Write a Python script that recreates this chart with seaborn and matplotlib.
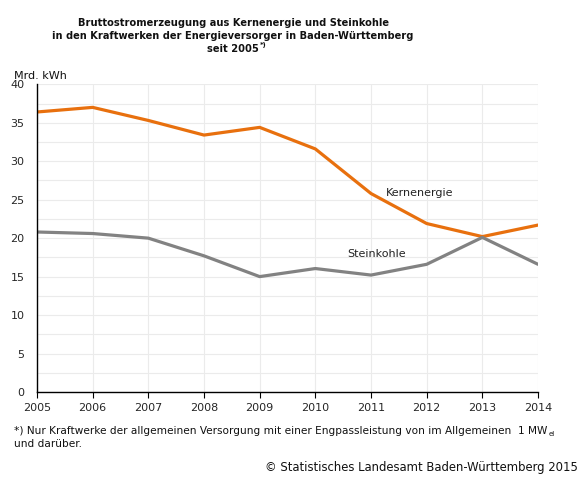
import matplotlib
matplotlib.use("Agg")
import matplotlib.pyplot as plt
import seaborn as sns
import pandas as pd
from matplotlib.ticker import MultipleLocator

years = [2005, 2006, 2007, 2008, 2009, 2010, 2011, 2012, 2013, 2014]
kernenergie = [36.4, 37.0, 35.3, 33.4, 34.4, 31.6, 25.8, 21.9, 20.2, 21.7]
steinkohle = [20.8, 20.6, 20.0, 17.7, 15.0, 16.05, 15.2, 16.6, 20.1, 16.6]
series_names = ["Kernenergie", "Steinkohle"]
colors = ["#E8700E", "#828282"]

df = pd.DataFrame({
    "Jahr": years * 2,
    "Wert": kernenergie + steinkohle,
    "Serie": [series_names[0]] * len(years) + [series_names[1]] * len(years),
})

sns.set_style("white")
plt.rcParams['font.family'] = ['DejaVu Sans']

W, H = 582, 482
fig = plt.figure(figsize=(W / 100, H / 100), dpi=100)
ax = fig.add_axes([37/W, 1 - 392/H, (538 - 37)/W, (392 - 84.3)/H])

sns.lineplot(data=df, x="Jahr", y="Wert", hue="Serie", palette=colors,
             linewidth=2.3, ax=ax, legend=False)

ax.set_xlim(2005, 2014)
ax.set_ylim(0, 40)
ax.set_xticks(years)
ax.set_xticklabels([str(y) for y in years])
ax.yaxis.set_major_locator(MultipleLocator(5))
ax.yaxis.set_minor_locator(MultipleLocator(2.5))
ax.grid(True, which="both", color="#EBEBEB", linewidth=0.8)
ax.set_axisbelow(True)
ax.set_xlabel("")
ax.set_ylabel("")
for s in ["top", "right"]:
    ax.spines[s].set_visible(False)
for s in ["left", "bottom"]:
    ax.spines[s].set_color("black")
    ax.spines[s].set_linewidth(1.0)
ax.tick_params(axis="x", which="major", length=4, width=0.8, color="black",
               direction="out", labelsize=8, pad=4, bottom=True)
ax.tick_params(axis="y", which="both", length=0, labelsize=8, pad=9, left=False)

ax.text(2011.27, 25.9, "Kernenergie", fontsize=8, color="#222222", va="center", ha="left")
ax.text(2010.57, 18.0, "Steinkohle", fontsize=8, color="#222222", va="center", ha="left")

fig.text(14/W, 1 - 76/H, "Mrd. kWh", fontsize=8, ha="left", va="center", color="#111111")

tx = 233/W
tfs = 7.1
fig.text(tx, 1 - 23/H, "Bruttostromerzeugung aus Kernenergie und Steinkohle",
         fontsize=tfs, fontweight="bold", ha="center", va="center", color="#111111")
fig.text(tx, 1 - 36/H, "in den Kraftwerken der Energieversorger in Baden-Württemberg",
         fontsize=tfs, fontweight="bold", ha="center", va="center", color="#111111")
t3 = fig.text(tx, 1 - 49/H, "seit 2005", fontsize=tfs, fontweight="bold",
              ha="center", va="center", color="#111111")

f1 = fig.text(14/W, 1 - 431/H,
              "*) Nur Kraftwerke der allgemeinen Versorgung mit einer Engpassleistung von im Allgemeinen  1 MW",
              fontsize=7.6, ha="left", va="center", color="#111111")
fig.text(14/W, 1 - 444/H, "und darüber.", fontsize=7.6, ha="left", va="center", color="#111111")
fig.text(578/W, 1 - 467/H, "© Statistisches Landesamt Baden-Württemberg 2015",
         fontsize=8.4, ha="right", va="center", color="#111111")

fig.canvas.draw()
r = fig.canvas.get_renderer()
b3 = t3.get_window_extent(r)
fig.text((b3.x1 + 1) / W, 1 - 45/H, "*)", fontsize=5, fontweight="bold",
         ha="left", va="center", color="#111111")
bf = f1.get_window_extent(r)
fig.text((bf.x1 + 1) / W, 1 - 434/H, "el", fontsize=5, ha="left", va="center", color="#111111")

fig.savefig("out.png", dpi=100)
